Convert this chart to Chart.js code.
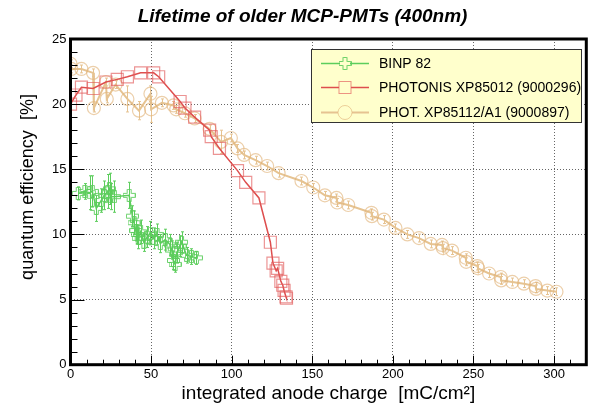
<!DOCTYPE html>
<html>
<head>
<meta charset="utf-8">
<script src="https://cdn.jsdelivr.net/npm/chart.js@4"></script>
<style>
  body { margin: 0; background: #fff; }
  #wrap { width: 596px; height: 414px; position: relative; }
</style>
</head>
<body>
<div id="wrap"><canvas id="myChart"></canvas></div>
<script>
// BINP 82
const binpX = [4.8, 8.9, 11.9, 13.5, 16.0, 19.0, 21.0, 23.1, 24.2, 25.0, 27.2, 36.4, 38.4, 39.4, 40.5, 41.4, 42.0, 43.5, 45.5, 47.6, 49.6, 51.6, 53.7, 55.7, 58.8, 61.9, 62.8, 63.9, 64.9, 65.9, 68.0, 68.9, 72.0, 75.0, 78.1];
const binpY = [13.15, 13.3, 13.2, 13.3, 12.0, 12.6, 13.0, 13.3, 13.5, 12.9, 12.9, 13.0, 11.4, 10.9, 10.3, 10.0, 9.7, 10.2, 9.4, 9.8, 10.1, 9.7, 10.0, 9.3, 9.6, 9.2, 8.8, 8.0, 7.7, 8.6, 9.1, 9.4, 8.4, 8.3, 8.2];
const binpErr = [0.5, 0.6, 1.3, 1.2, 1.0, 0.9, 1.1, 1.3, 1.2, 1.0, 1.2, 1.0, 0.8, 0.9, 0.8, 0.7, 0.8, 0.9, 0.7, 0.8, 0.9, 0.8, 0.8, 0.7, 0.8, 0.8, 0.7, 0.7, 0.6, 0.8, 0.8, 0.8, 0.6, 0.6, 0.5];

// PHOTONIS XP85012 (9000296)
const photX = [0, 3.4, 6.8, 14, 22, 29, 35.3, 43.5, 51.6, 54.7, 68, 71, 77, 86.3, 87.3, 92.4, 103.6, 108.7, 116.9, 124, 125.6, 127.6, 128.5, 130.5, 131.7, 132.5, 133.7, 134];
const photY = [20.0, 20.7, 21.3, 21.2, 21.7, 21.9, 22.1, 22.4, 22.4, 22.1, 20.2, 19.7, 19.0, 18.0, 17.5, 16.6, 14.9, 14.0, 12.8, 9.4, 7.8, 7.2, 7.4, 6.4, 6.1, 5.7, 5.2, 5.1];

// PHOT. XP85112/A1 (9000897)
const phot2X = [0, 0.5, 6.8, 14, 14.5, 22, 22.5, 28, 35.3, 42.5, 49.6, 50, 56.7, 63.9, 65.6, 71, 77, 86.3, 93.4, 99.5, 103.6, 107.7, 114.8, 122, 129.1, 143.3, 150.6, 157.8, 165, 165.5, 172.3, 186.7, 187, 194.4, 201.6, 209, 216.2, 223.5, 230.5, 231, 236.7, 245.2, 245.5, 252.4, 252.8, 259.7, 266.9, 267.2, 274.1, 281.3, 288.5, 288.8, 295.8, 301.5];
const phot2Y = [23.1, 22.7, 22.7, 22.4, 19.7, 21.7, 20.4, 21.5, 20.4, 19.5, 20.8, 19.6, 20.1, 19.9, 19.6, 19.3, 18.9, 18.1, 17.1, 17.4, 16.6, 16.1, 15.7, 15.25, 14.7, 14.1, 13.6, 13.0, 12.8, 12.45, 12.26, 11.66, 11.4, 11.14, 10.5, 10.0, 9.72, 9.27, 9.19, 8.95, 8.76, 8.21, 7.9, 7.57, 7.4, 7.0, 6.73, 6.47, 6.35, 6.22, 6.03, 5.82, 5.69, 5.6];
const phot2Err = [0.3, 0.3, 0.3, 0.3, 0.3, 0.3, 0.3, 0.3, 1.0, 0.7, 0.6, 1.0, 0.3, 0.3, 0.3, 0.3, 0.3, 0.3, 0.9, 0.3, 0.3, 0.3, 0.3, 0.3, 0.3, 0.3, 0.3, 0.3, 0.3, 0.3, 0.3, 0.3, 0.3, 0.3, 0.3, 0.3, 0.3, 0.3, 0.3, 0.3, 0.3, 0.3, 0.3, 0.3, 0.3, 0.3, 0.3, 0.3, 0.3, 0.3, 0.3, 0.3, 0.3, 0.3];

const xTicks = [0, 50, 100, 150, 200, 250, 300];
const yTicks = [0, 5, 10, 15, 20, 25];
const names = ['BINP 82', 'PHOTONIS XP85012 (9000296)', 'PHOT. XP85112/A1 (9000897)'];

const toPoints = (xs, ys) => xs.map((x, i) => ({ x: x, y: ys[i] }));

// open cross marker like ROOT's style 28
function openCross(color) {
  const c = document.createElement('canvas');
  c.width = 13; c.height = 13;
  const g = c.getContext('2d');
  const m = 6.5, a = 2, b = 6;
  g.beginPath();
  g.moveTo(m - a, m - b); g.lineTo(m + a, m - b); g.lineTo(m + a, m - a);
  g.lineTo(m + b, m - a); g.lineTo(m + b, m + a); g.lineTo(m + a, m + a);
  g.lineTo(m + a, m + b); g.lineTo(m - a, m + b); g.lineTo(m - a, m + a);
  g.lineTo(m - b, m + a); g.lineTo(m - b, m - a); g.lineTo(m - a, m - a);
  g.closePath();
  g.strokeStyle = color; g.lineWidth = 1; g.stroke();
  return c;
}

const green = 'rgb(92,205,92)';
const red = 'rgb(222,78,78)';
const redMk = 'rgba(226,90,90,0.65)';
const tan = 'rgb(230,195,145)';
const tanMk = 'rgba(226,182,125,0.65)';
const crossImg = openCross('rgba(92,205,92,0.9)');

const rootStyle = {
  id: 'rootStyle',
  beforeDatasetsDraw(chart) {
    const { ctx, scales: { x, y } } = chart;
    chart.data.datasets.forEach((ds) => {
      if (!ds.errors) return;
      ctx.save();
      ctx.strokeStyle = ds.borderColor;
      ctx.lineWidth = 1;
      ctx.beginPath();
      ds.data.forEach((p, i) => {
        const e = ds.errors[i];
        if (!e) return;
        const px = Math.round(x.getPixelForValue(p.x)) + 0.5;
        const y1 = y.getPixelForValue(p.y - e), y2 = y.getPixelForValue(p.y + e);
        ctx.moveTo(px, y1); ctx.lineTo(px, y2);
        ctx.moveTo(px - 1.5, y1); ctx.lineTo(px + 1.5, y1);
        ctx.moveTo(px - 1.5, y2); ctx.lineTo(px + 1.5, y2);
      });
      ctx.stroke();
      ctx.restore();
    });
  },
  afterDraw(chart) {
    const { ctx, chartArea: a, scales: { x, y } } = chart;
    ctx.save();
    // inward ticks
    ctx.strokeStyle = '#000';
    ctx.lineWidth = 1;
    ctx.beginPath();
    for (let v = 0; v <= 320; v += 10) {
      const px = Math.round(x.getPixelForValue(v)) + 0.5;
      const len = v % 50 === 0 ? 9 : 5;
      ctx.moveTo(px, a.bottom); ctx.lineTo(px, a.bottom - len);
    }
    for (let v = 0; v <= 25; v += 1) {
      const py = Math.round(y.getPixelForValue(v)) + 0.5;
      const len = v % 5 === 0 ? 14 : 7;
      ctx.moveTo(a.left, py); ctx.lineTo(a.left + len, py);
    }
    ctx.stroke();
    // frame
    ctx.lineWidth = 3;
    ctx.strokeRect(a.left, a.top, a.right - a.left, a.bottom - a.top);

    // legend box
    const lx = 311, ly = 49, lw = 271, lh = 74;
    ctx.fillStyle = '#ffffcc';
    ctx.fillRect(lx, ly, lw, lh);
    ctx.lineWidth = 1;
    ctx.strokeStyle = '#333';
    ctx.strokeRect(lx + 0.5, ly + 0.5, lw - 1, lh - 1);
    const rows = [63, 87, 112];
    chart.data.datasets.forEach((ds, i) => {
      const ry = rows[i] + 0.5;
      ctx.strokeStyle = ds.borderColor;
      ctx.lineWidth = ds.borderWidth;
      ctx.beginPath(); ctx.moveTo(321, ry); ctx.lineTo(369, ry); ctx.stroke();
      ctx.lineWidth = 1;
      ctx.strokeStyle = ds.pointBorderColor;
      if (ds.pointStyle === 'rect') {
        ctx.fillStyle = '#ffffcc';
        ctx.fillRect(339, ry - 6, 12, 12);
        ctx.strokeRect(339, ry - 6, 12, 12);
      } else if (ds.pointStyle === 'circle') {
        ctx.fillStyle = '#ffffcc';
        ctx.beginPath(); ctx.arc(345, ry, 7, 0, Math.PI * 2); ctx.fill(); ctx.stroke();
      } else {
        ctx.fillStyle = '#ffffcc';
        ctx.fillRect(340, ry - 5, 10, 10);
        ctx.drawImage(ds.pointStyle, 345 - 6.5, ry - 6.5);
      }
      ctx.fillStyle = '#000';
      ctx.font = '14px "Liberation Sans", Arial, sans-serif';
      ctx.textBaseline = 'middle';
      ctx.textAlign = 'left';
      ctx.fillText(ds.label, 379, rows[i] + 1);
    });

    // y axis title
    ctx.translate(28, 187);
    ctx.rotate(-Math.PI / 2);
    ctx.font = '18px "Liberation Sans", Arial, sans-serif';
    ctx.textAlign = 'center';
    ctx.textBaseline = 'middle';
    ctx.fillStyle = '#000';
    ctx.fillText('quantum efficiency  [%]', 0, 0);
    ctx.restore();
  }
};

const ctx = document.getElementById('myChart');

new Chart(ctx, {
  type: 'scatter',
  data: {
    datasets: [{
      label: names[0],
      data: toPoints(binpX, binpY),
      errors: binpErr,
      showLine: true,
      borderColor: green,
      borderWidth: 1.5,
      pointStyle: crossImg,
      pointBorderColor: green,
      pointBackgroundColor: 'transparent',
      pointRadius: 6
    }, {
      label: names[1],
      data: toPoints(photX, photY),
      showLine: true,
      borderColor: red,
      borderWidth: 1.5,
      pointStyle: 'rect',
      pointRadius: 8.5,
      pointBorderWidth: 1.2,
      pointBorderColor: redMk,
      pointBackgroundColor: 'transparent'
    }, {
      label: names[2],
      data: toPoints(phot2X, phot2Y),
      errors: phot2Err,
      showLine: true,
      borderColor: tan,
      borderWidth: 2,
      pointStyle: 'circle',
      pointRadius: 6.5,
      pointBorderWidth: 1.2,
      pointBorderColor: tanMk,
      pointBackgroundColor: 'transparent'
    }]
  },
  options: {
    responsive: true,
    maintainAspectRatio: false,
    animation: false,
    layout: { padding: { left: 12, right: 3, top: 0, bottom: 0 } },
    plugins: {
      legend: { display: false },
      tooltip: { enabled: false },
      title: {
        display: true,
        text: 'Lifetime of older MCP-PMTs (400nm)',
        color: '#000',
        font: { family: '"Liberation Sans", Arial, sans-serif', size: 19, style: 'italic', weight: 'bold' },
        padding: { top: 5.6, bottom: 10.6 }
      }
    },
    scales: {
      x: {
        type: 'linear',
        min: 0,
        max: 320,
        afterBuildTicks: (s) => { s.ticks = xTicks.map((v) => ({ value: v })); },
        afterFit: (s) => { s.height = 49.3; },
        ticks: {
          color: '#000',
          padding: 2,
          maxRotation: 0,
          font: { family: '"Liberation Sans", Arial, sans-serif', size: 13 }
        },
        grid: { color: '#666', lineWidth: 1, drawTicks: false },
        border: { display: false, dash: [1, 2] },
        title: {
          display: true,
          text: 'integrated anode charge  [mC/cm²]',
          color: '#000',
          font: { family: '"Liberation Sans", Arial, sans-serif', size: 19 },
          padding: { top: 0, bottom: 8.6 }
        }
      },
      y: {
        type: 'linear',
        min: 0,
        max: 25,
        afterBuildTicks: (s) => { s.ticks = yTicks.map((v) => ({ value: v })); },
        afterFit: (s) => { s.width = 58.5; },
        ticks: {
          color: '#000',
          padding: 4,
          font: { family: '"Liberation Sans", Arial, sans-serif', size: 13 }
        },
        grid: { color: '#666', lineWidth: 1, drawTicks: false },
        border: { display: false, dash: [1, 2] }
      }
    }
  },
  plugins: [rootStyle]
});
</script>
</body>
</html>
